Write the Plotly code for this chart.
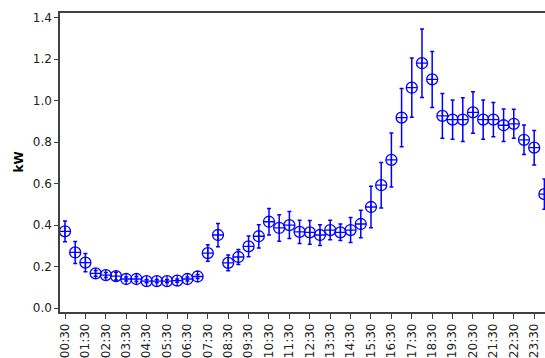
import plotly.graph_objects as go

# half-hour ending times (hours), 00:30 ... 24:00
times_h = [0.5 * i for i in range(1, 49)]
kw_mean = [0.370, 0.268, 0.219, 0.167, 0.159, 0.154, 0.140, 0.140, 0.130, 0.130,
           0.130, 0.132, 0.140, 0.152, 0.265, 0.352, 0.218, 0.246, 0.297, 0.346,
           0.416, 0.386, 0.400, 0.367, 0.365, 0.352, 0.376, 0.365, 0.376, 0.405,
           0.487, 0.592, 0.714, 0.918, 1.062, 1.180, 1.102, 0.926, 0.908, 0.908,
           0.943, 0.908, 0.908, 0.881, 0.888, 0.811, 0.773, 0.549]
kw_err = [0.050, 0.053, 0.044, 0.014, 0.012, 0.019, 0.010, 0.012, 0.008, 0.008,
          0.008, 0.008, 0.010, 0.010, 0.040, 0.056, 0.038, 0.036, 0.050, 0.056,
          0.064, 0.064, 0.065, 0.056, 0.057, 0.050, 0.047, 0.040, 0.060, 0.066,
          0.100, 0.110, 0.130, 0.140, 0.143, 0.165, 0.135, 0.108, 0.095, 0.105,
          0.100, 0.095, 0.083, 0.078, 0.070, 0.071, 0.083, 0.073]
tick_vals = [h + 0.5 for h in range(24)]
tick_text = ["%02d:30" % h for h in range(24)]
y_ticks = [0.0, 0.2, 0.4, 0.6, 0.8, 1.0, 1.2, 1.4]

fig = go.Figure()
fig.add_trace(go.Scatter(
    x=times_h, y=kw_mean, mode="markers",
    marker=dict(symbol="circle-cross-open", size=11, color="#0000ff",
                line=dict(width=1.3, color="#0000ff")),
    error_y=dict(type="data", array=kw_err, visible=True, color="#0000ff",
                 thickness=1.5, width=2),
    cliponaxis=True, showlegend=False,
))

axis_font = dict(family="DejaVu Sans, Verdana, sans-serif", size=12, color="#222222")
fig.update_layout(
    width=545, height=358,
    margin=dict(l=60, r=0, t=13, b=42),
    paper_bgcolor="white", plot_bgcolor="white",
    font=axis_font,
    xaxis=dict(range=[0.255, 24.03], tickmode="array", tickvals=tick_vals,
               ticktext=tick_text, tickangle=-90, ticks="outside", ticklen=5,
               tickcolor="#404040", showline=True, linecolor="#404040",
               linewidth=1.5, mirror=True, showgrid=False, zeroline=False,
               tickfont=axis_font),
    yaxis=dict(range=[-0.019, 1.422], tickmode="array", tickvals=y_ticks,
               ticktext=["%.1f" % v for v in y_ticks], ticks="outside",
               ticklen=4, tickcolor="#404040", showline=True,
               linecolor="#404040", linewidth=1.5, showgrid=False,
               zeroline=False, tickfont=axis_font),
    annotations=[dict(text="<b>kW</b>", xref="paper", yref="paper",
                      x=(18 - 60) / 485, y=0.5, xanchor="center",
                      yanchor="middle", textangle=-90, showarrow=False,
                      font=dict(family="DejaVu Sans, Verdana, sans-serif",
                                size=12, color="#000000"))],
)
fig.write_html("out.html", config={"displayModeBar": False},
               post_script="document.body.style.margin='0';document.body.style.overflow='hidden';")
